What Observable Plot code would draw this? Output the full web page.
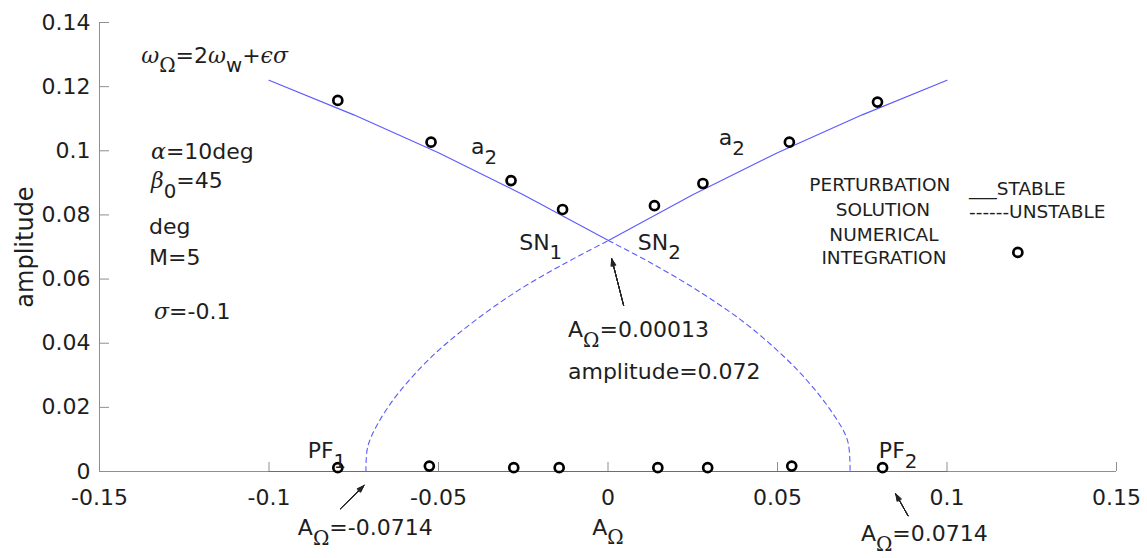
<!DOCTYPE html>
<html><head><meta charset="utf-8">
<script src="https://cdn.jsdelivr.net/npm/d3@7"></script>
<script src="https://cdn.jsdelivr.net/npm/@observablehq/plot@0.6"></script>
<style>html,body{margin:0;padding:0;background:#fff}</style>
</head><body><div id="chart"></div>
<script>
// ---- data ----
const xTicks = [-0.15, -0.1, -0.05, 0, 0.05, 0.1, 0.15];
const yTicks = [0, 0.02, 0.04, 0.06, 0.08, 0.1, 0.12, 0.14];

// stable upper branch (a2)
const stableA   = [-0.1, -0.075, -0.05, -0.025, 0.00013, 0.025, 0.05, 0.075, 0.1];
const stableAmp = [0.122, 0.1112, 0.0994, 0.0863, 0.072, 0.0863, 0.0994, 0.1112, 0.122];
// stable trivial branch
const trivialA   = [-0.1, 0.1];
const trivialAmp = [0, 0];
// unstable branches
const unstableLeftA    = [-0.0714, -0.0709, -0.0679, -0.0620, -0.0522, -0.0404, -0.0266, -0.0129, 0.00013];
const unstableLeftAmp  = [0, 0.0076, 0.0149, 0.0242, 0.0356, 0.0461, 0.0564, 0.0648, 0.072];
const unstableRightA   = [0.00013, 0.0127, 0.0274, 0.0422, 0.0569, 0.0667, 0.0707, 0.0714];
const unstableRightAmp = [0.072, 0.065, 0.0558, 0.0448, 0.0305, 0.0175, 0.0095, 0];
// numerical integration points
const numA   = [-0.0797, -0.0522, -0.0286, -0.0134, 0.0137, 0.028, 0.0535, 0.0795,
                -0.0797, -0.0527, -0.0278, -0.0144, 0.0147, 0.0294, 0.0542, 0.081];
const numAmp = [0.1157, 0.1027, 0.0907, 0.0817, 0.0829, 0.0898, 0.1027, 0.1152,
                0.0012, 0.0017, 0.0012, 0.0012, 0.0012, 0.0012, 0.0017, 0.0012];

// annotations (left-anchored)
const annotText = ["ω_{Ω}=2ω_{w}+ϵσ", "α=10deg", "β_{0}=45", "deg", "M=5", "σ=-0.1",
                   "a_{2}", "a_{2}", "SN_{1}", "SN_{2}", "A_{Ω}=0.00013", "amplitude=0.072",
                   "PF_{1}", "PF_{2}", "A_{Ω}=-0.0714", "A_{Ω}=0.0714"];
const annotA   = [-0.1377, -0.1348, -0.1348, -0.1354, -0.1354, -0.1339,
                  -0.0404, 0.0327, -0.0262, 0.0088, -0.0118, -0.0118,
                  -0.0886, 0.0799, -0.0915, 0.0746];
const annotAmp = [0.1297, 0.0995, 0.0907, 0.0764, 0.0667, 0.0499,
                  0.1013, 0.1041, 0.0714, 0.0714, 0.044, 0.0309,
                  0.0065, 0.0065, -0.0175, -0.0194];
// arrows
const arrowA1 = [0.0046, -0.0789, 0.0885];
const arrowY1 = [0.0518, -0.0116, -0.0138];
const arrowA2 = [0.0011, -0.0720, 0.0849];
const arrowY2 = [0.0663, -0.0044, -0.0070];
// legend
const legendLeftText = ["PERTURBATION", "SOLUTION", "NUMERICAL", "INTEGRATION"];
const legendLeftA    = [0.0802, 0.0811, 0.0814, 0.0814];
const legendLeftAmp  = [0.0892, 0.0814, 0.0736, 0.0664];
const legendRightText = ["___STABLE", "------UNSTABLE"];
const legendRightA    = [0.1065, 0.1065];
const legendRightAmp  = [0.0882, 0.0808];
const legendDotA = [0.1209];
const legendDotAmp = [0.0683];

// ---- tables ----
const zip = (xs, ys) => xs.map((x, i) => ({A: x, amp: ys[i]}));
const stable = zip(stableA, stableAmp);
const trivial = zip(trivialA, trivialAmp);
const unstL = zip(unstableLeftA, unstableLeftAmp);
const unstR = zip(unstableRightA, unstableRightAmp);
const num = zip(numA, numAmp);
const annots = annotText.map((t, i) => ({t, A: annotA[i], amp: annotAmp[i]}));
const arrows = arrowA1.map((a, i) => ({x1: a, y1: arrowY1[i], x2: arrowA2[i], y2: arrowY2[i]}));
const legL = legendLeftText.map((t, i) => ({t, A: legendLeftA[i], amp: legendLeftAmp[i]}));
const legR = legendRightText.map((t, i) => ({t, A: legendRightA[i], amp: legendRightAmp[i]}));
const legD = zip(legendDotA, legendDotAmp);

const axisGray = "#8f8f8f";
const ink = "#1e1e1e";
const blue = "#5a5aff";

const W = 1147, H = 558, ML = 99, MR = 31, MT = 22, MB = 87;
const frameW = W - ML - MR, frameH = H - MT - MB;
const arrowMarks = [40, 30, 22, 14, 7].map(ang =>
  Plot.arrow(arrows, {x1: "x1", y1: "y1", x2: "x2", y2: "y2", stroke: "#222", strokeWidth: 1,
                      headLength: 11, headAngle: ang, bend: 0, insetEnd: 0, insetStart: 0}));

const plot = Plot.plot({
  width: W, height: H,
  marginLeft: ML, marginRight: MR, marginTop: MT, marginBottom: MB,
  style: {fontFamily: "DejaVu Sans", color: ink, background: "#fff"},
  x: {domain: [-0.15, 0.15]},
  y: {domain: [0, 0.14]},
  marks: [
    Plot.axisX({ticks: xTicks, tickSize: 0, tickPadding: 18, tickFormat: d => String(d), fontSize: 22, label: null}),
    Plot.axisY({ticks: yTicks, tickSize: 0, tickPadding: 9, tickFormat: d => String(d), fontSize: 22, label: null}),
    Plot.ruleY([0], {stroke: axisGray}),
    Plot.ruleX([-0.15], {stroke: axisGray}),
    Plot.tickX(xTicks, {x: d => d, insetTop: frameH - 9, stroke: axisGray}),
    Plot.tickY(yTicks, {y: d => d, insetRight: frameW - 10, stroke: axisGray}),
    Plot.line(trivial, {x: "A", y: "amp", stroke: blue, strokeWidth: 1.1}),
    Plot.line(stable, {x: "A", y: "amp", stroke: blue, strokeWidth: 1.1}),
    Plot.line(unstL, {x: "A", y: "amp", stroke: blue, strokeWidth: 1.1, strokeDasharray: "5,4", curve: "catmull-rom"}),
    Plot.line(unstR, {x: "A", y: "amp", stroke: blue, strokeWidth: 1.1, strokeDasharray: "5,4", curve: "catmull-rom"}),
    Plot.dot(num, {x: "A", y: "amp", r: 4.5, stroke: "#000", strokeWidth: 2.7, fill: "none"}),
    Plot.dot(legD, {x: "A", y: "amp", r: 4.5, stroke: "#000", strokeWidth: 2.7, fill: "none"}),
    ...arrowMarks,
    Plot.text(annots, {x: "A", y: "amp", text: "t", textAnchor: "start", fontSize: 22, fill: ink}),
    Plot.text(legL, {x: "A", y: "amp", text: "t", textAnchor: "middle", fontSize: 18.5, fill: ink}),
    Plot.text(legR, {x: "A", y: "amp", text: "t", textAnchor: "start", fontSize: 18.5, fill: ink}),
    Plot.text(["amplitude"], {frameAnchor: "left", textAnchor: "middle", lineAnchor: "middle", rotate: -90, dx: -74, fontSize: 24, fill: ink}),
    Plot.text(["A_{Ω}"], {frameAnchor: "bottom", textAnchor: "middle", lineAnchor: "middle", dy: 56, fontSize: 22, fill: ink})
  ]
});
document.getElementById("chart").appendChild(plot);

// ---- rich text: subscripts and greek letters ----
const greek = /[αβσωϵ]/;
d3.select(plot).selectAll("text").each(function () {
  if (this.querySelector("tspan")) return;
  const s = this.textContent;
  if (!s.includes("_{") && !/[αβσωϵΩ]/.test(s)) return;
  const fs = parseFloat(getComputedStyle(this).fontSize) || 22;
  const shift = 0.45 * fs;
  const segs = [];
  let i = 0;
  while (i < s.length) {
    if (s.startsWith("_{", i)) {
      const j = s.indexOf("}", i);
      segs.push({t: s.slice(i + 2, j), sub: true});
      i = j + 1;
    } else {
      segs.push({t: s[i], sub: false});
      i++;
    }
  }
  this.textContent = "";
  let lowered = false;
  const el = d3.select(this);
  for (const seg of segs) {
    for (const ch of seg.t) {
      const ts = el.append("tspan").text(ch);
      if (greek.test(ch)) ts.attr("font-family", "DejaVu Serif").attr("font-style", "italic");
      if (ch === "Ω") ts.attr("font-family", "DejaVu Serif");
      if (seg.sub) ts.attr("font-size", (fs * 0.9) + "px");
      if (seg.sub && !lowered) { ts.attr("dy", shift); lowered = true; }
      else if (!seg.sub && lowered) { ts.attr("dy", -shift); lowered = false; }
    }
  }
});
</script></body></html>
